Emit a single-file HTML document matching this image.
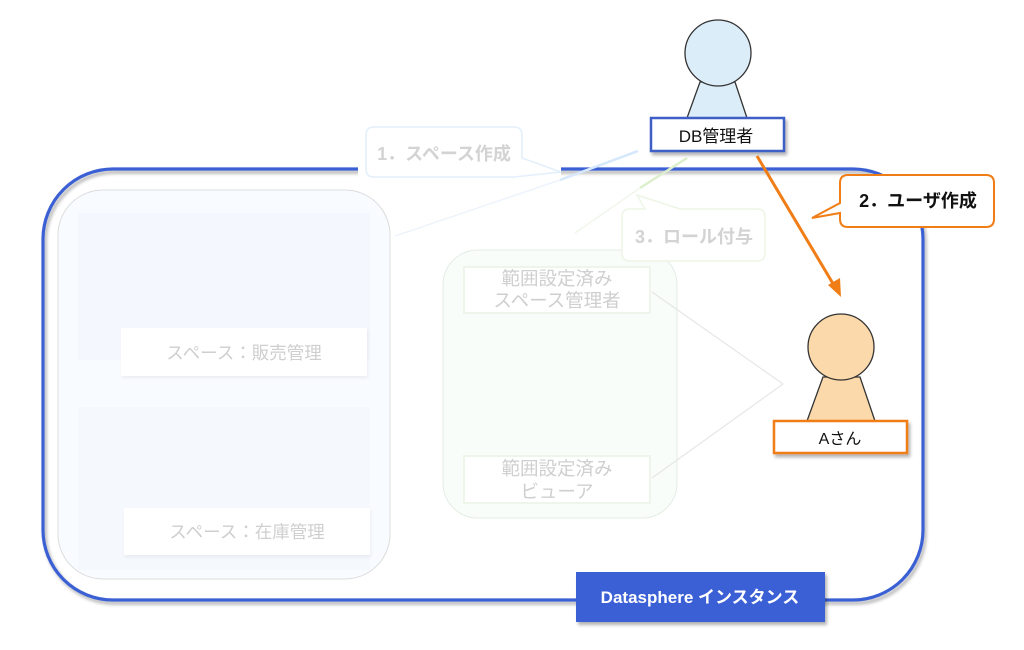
<!DOCTYPE html>
<html><head><meta charset="utf-8"><style>
html,body{margin:0;padding:0;background:#fff;}
body{width:1024px;height:645px;overflow:hidden;}
text{font-family:"Liberation Sans","Noto Sans CJK JP",sans-serif;}
</style></head><body>
<svg width="1024" height="645" viewBox="0 0 1024 645" xmlns="http://www.w3.org/2000/svg">
<defs>
<filter id="sh" x="-10%" y="-10%" width="130%" height="140%"><feDropShadow dx="2" dy="3" stdDeviation="1.5" flood-color="#000" flood-opacity="0.3"/></filter>
<filter id="shl" x="-10%" y="-10%" width="130%" height="140%"><feDropShadow dx="1" dy="2" stdDeviation="1.5" flood-color="#000" flood-opacity="0.06"/></filter>
</defs>
<!-- main container -->
<rect x="43" y="169" width="880" height="431" rx="70" ry="70" fill="none" stroke="#3b60d4" stroke-width="3.2" filter="url(#sh)"/>
<rect x="358" y="163" width="203" height="14" fill="#fff"/>

<!-- left group -->
<rect x="58" y="190" width="332" height="389" rx="45" fill="#f8fbff" stroke="#dcdcdc" stroke-width="1"/>
<rect x="78" y="213" width="292" height="147" fill="#f4f8fe"/>
<rect x="78" y="407" width="292" height="163" fill="#f5f9fe"/>
<rect x="121" y="328" width="246" height="48" fill="#fff" filter="url(#shl)"/>
<text x="244" y="359" font-size="17.5" fill="#cfcfcf" text-anchor="middle">スペース：販売管理</text>
<rect x="124" y="508" width="246" height="47" fill="#fff" filter="url(#shl)"/>
<text x="247" y="538" font-size="17.5" fill="#cfcfcf" text-anchor="middle">スペース：在庫管理</text>

<!-- middle group -->
<rect x="443" y="250" width="234" height="268" rx="35" fill="#f8fdf9" stroke="#e4ece4" stroke-width="1"/>
<rect x="464" y="267" width="186" height="46" fill="#fff" stroke="#eef5ea" stroke-width="2"/>
<text x="557" y="285" font-size="18.5" fill="#cfcfcf" text-anchor="middle">範囲設定済み</text>
<text x="557" y="307" font-size="18.5" fill="#cfcfcf" text-anchor="middle">スペース管理者</text>
<rect x="464" y="456" width="186" height="47" fill="#fff" stroke="#eef5ea" stroke-width="2"/>
<text x="557" y="475" font-size="18.5" fill="#cfcfcf" text-anchor="middle">範囲設定済み</text>
<text x="557" y="498" font-size="18.5" fill="#cfcfcf" text-anchor="middle">ビューア</text>

<!-- faint connectors -->
<polyline points="652,292 783,384 652,478" fill="none" stroke="#e6e6e6" stroke-width="1.2"/>
<line x1="560" y1="180" x2="395" y2="236" stroke="#eef4fc" stroke-width="1.5"/>
<line x1="640" y1="188" x2="575" y2="233" stroke="#f0f6ec" stroke-width="1.5"/>

<!-- callout 1 (faint) -->
<path d="M374,127 H514 Q522,127 522,135 V158 L561,172 L514,177 H374 Q366,177 366,169 V135 Q366,127 374,127 Z" fill="#fff" stroke="#e3effc" stroke-width="1.5"/>
<text x="444" y="160" font-size="18" font-weight="bold" fill="#d3d3d3" text-anchor="middle">1．スペース作成</text>
<line x1="638" y1="151" x2="560" y2="180" stroke="#d6e8fb" stroke-width="2.5"/>
<line x1="687" y1="158" x2="640" y2="188" stroke="#dcefcc" stroke-width="2.5"/>

<!-- callout 3 (faint) -->
<path d="M630,209 H645 L637,195 L680,209 H757 Q765,209 765,217 V253 Q765,261 757,261 H630 Q622,261 622,253 V217 Q622,209 630,209 Z" fill="#fff" stroke="#edf5e6" stroke-width="1.5"/>
<text x="694" y="243" font-size="18" font-weight="bold" fill="#d3d3d3" text-anchor="middle">3．ロール付与</text>

<!-- DB admin person -->
<path d="M700,82 L735,82 L747,118 L687,118 Z" fill="#dcedfa" stroke="#333" stroke-width="1.3"/>
<circle cx="718" cy="53" r="33" fill="#dcedfa" stroke="#333" stroke-width="1.3"/>
<rect x="651" y="118" width="133" height="33" fill="#fff" stroke="#3d5fc6" stroke-width="2.5" filter="url(#sh)"/>
<text x="716" y="142" font-size="17" fill="#111" text-anchor="middle">DB管理者</text>

<!-- orange arrow -->
<line x1="757" y1="156" x2="835" y2="287" stroke="#f07d16" stroke-width="3"/>
<polygon points="841,297 828,285 840,278" fill="#f07d16"/>

<!-- callout 2 -->
<path d="M848,175 H986 Q994,175 994,183 V219 Q994,227 986,227 H848 Q840,227 840,219 V213 L812,218 L840,203 V183 Q840,175 848,175 Z" fill="#fff" stroke="#f07d16" stroke-width="2"/>
<text x="918" y="207" font-size="18" font-weight="bold" fill="#111" text-anchor="middle">2．ユーザ作成</text>

<!-- A-san person -->
<path d="M823,377 L860,377 L875,421 L807,421 Z" fill="#fbd9aa" stroke="#333" stroke-width="1.3"/>
<circle cx="841" cy="347" r="33" fill="#fbd9aa" stroke="#333" stroke-width="1.3"/>
<rect x="774" y="421" width="133" height="32" fill="#fff" stroke="#f07d16" stroke-width="2.5" filter="url(#sh)"/>
<text x="840" y="444" font-size="16" fill="#111" text-anchor="middle">Aさん</text>

<!-- Datasphere label -->
<rect x="576" y="572" width="249" height="50" fill="#3b60d6" filter="url(#sh)"/>
<text x="700" y="603" font-size="17" font-weight="bold" fill="#fff" text-anchor="middle">Datasphere インスタンス</text>
</svg>
</body></html>
